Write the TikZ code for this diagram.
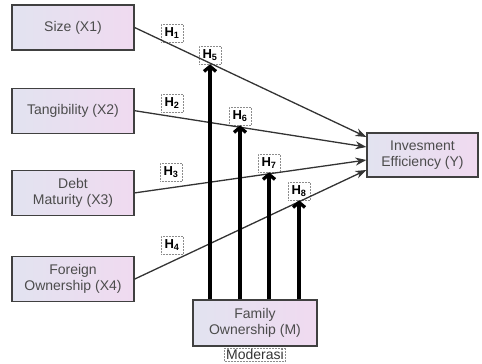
\documentclass[tikz,border=0pt]{standalone}
\usepackage{fontspec}
\setmainfont{Liberation Sans}
\usetikzlibrary{arrows.meta,positioning}
\definecolor{boxleft}{HTML}{E2E3F0}
\definecolor{boxright}{HTML}{F0DAF0}

\begin{document}
\begin{tikzpicture}[x=1pt, y=-1pt, thick,
    varbox/.style={rectangle, draw=black!75, line width=1.2pt, left color=boxleft, right color=boxright, text=black!70, align=center, font=\fontsize{14}{16}\selectfont, minimum width=122pt, minimum height=45pt, inner sep=2pt},
    hyp/.style={rectangle, draw=black!45, densely dotted, line width=0.5pt, text=black, font=\bfseries\fontsize{13}{15}\selectfont, minimum width=22pt, minimum height=18pt, inner sep=1pt},
    direct/.style={line width=1.3pt, draw=black!80, -{Stealth[length=11pt,width=8pt]}},
    modline/.style={line width=3.3pt, -{Straight Barb[length=5pt,width=12pt]}}]
    \useasboundingbox (0,0) rectangle (482,364);

    % Nodes
    \node (size) [varbox] at (73,27.5) {Size (X1)};
    \node (tang) [varbox, below=37pt of size] {Tangibility (X2)};
    \node (debt) [varbox, below=36pt of tang] {Debt\\Maturity (X3)};
    \node (foreign) [varbox, below=40pt of debt] {Foreign\\Ownership (X4)};
    \node (eff) [varbox, minimum width=111pt, minimum height=44pt] at (422.5,155) {Invesment\\Efficiency (Y)};
    \node (family) [varbox, minimum width=124pt, minimum height=46pt] at (255,323) {Family\\Ownership (M)};
    \node (moderasi) [rectangle, draw=black!45, densely dotted, line width=0.5pt, font=\fontsize{14}{16}\selectfont, text=black!80, inner sep=1.5pt, below=1pt of family] {Moderasi};

    % Hypothesis labels
    \node (h1) [hyp] at (172,33) {H\textsubscript{1}};
    \node (h2) [hyp] at (172,103) {H\textsubscript{2}};
    \node (h3) [hyp] at (171,172) {H\textsubscript{3}};
    \node (h4) [hyp] at (172,245) {H\textsubscript{4}};
    \node (h5) [hyp] at (210,55) {H\textsubscript{5}};
    \node (h6) [hyp] at (240,116) {H\textsubscript{6}};
    \node (h7) [hyp] at (269,163) {H\textsubscript{7}};
    \node (h8) [hyp] at (299,191) {H\textsubscript{8}};

    % Arrows
    \draw[direct] (size.east) -- ([yshift=18pt]eff.west);
    \draw[direct] (tang.east) -- ([yshift=8pt]eff.west);
    \draw[direct] (debt.east) -- ([yshift=-5pt]eff.west);
    \draw[direct] (foreign.east) -- ([yshift=-15pt]eff.west);
    \draw[modline] (h5.south |- family.north) -- (h5.south);
    \draw[modline] (h6.south |- family.north) -- (h6.south);
    \draw[modline] (h7.south |- family.north) -- (h7.south);
    \draw[modline] (h8.south |- family.north) -- (h8.south);
\end{tikzpicture}
\end{document}
